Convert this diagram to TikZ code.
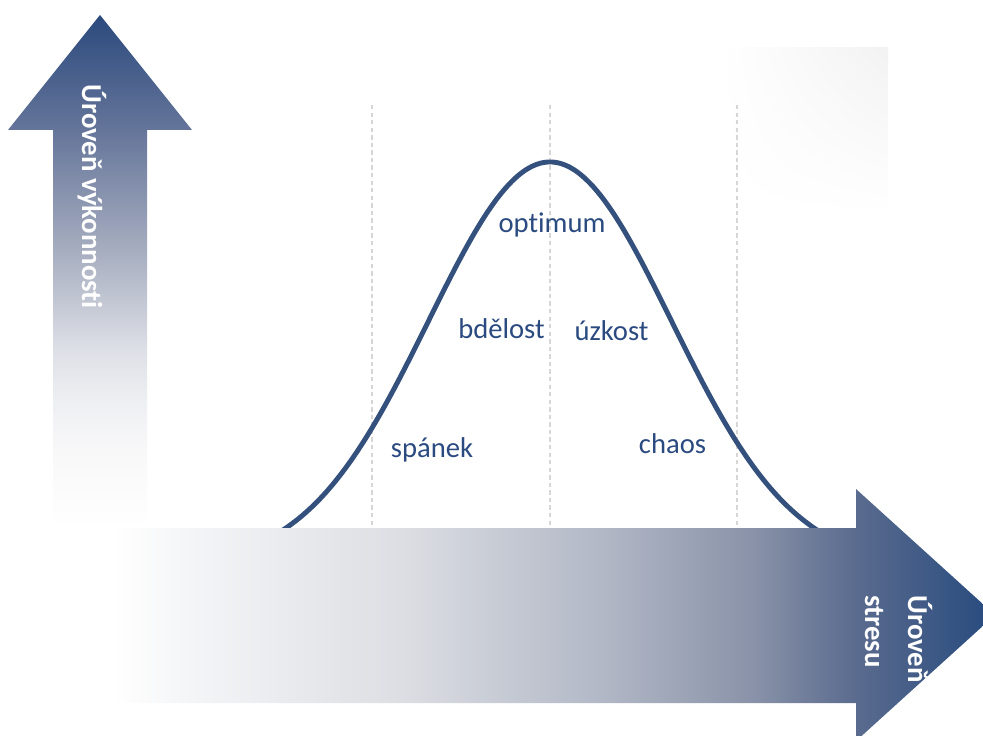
\documentclass[tikz,border=0pt]{standalone}
\usepackage{fontspec}
\setmainfont{Carlito}[Ligatures={NoCommon}]
\usetikzlibrary{shadings}
\definecolor{curvec}{HTML}{34507C}
\definecolor{labelc}{HTML}{2A4A80}
\definecolor{dashc}{HTML}{D6D6D6}
% vertical arrow stops
\definecolor{vA}{HTML}{F8F8F9}
\definecolor{vF}{HTML}{EEEFF2}
\definecolor{vB}{HTML}{DEE0E7}
\definecolor{vC}{HTML}{A6ADBF}
\definecolor{vD}{HTML}{65759A}
\definecolor{vE}{HTML}{2B4A7D}
% horizontal arrow stops
\definecolor{hA}{HTML}{F3F4F6}
\definecolor{hB}{HTML}{DCDEE3}
\definecolor{hC}{HTML}{B2B8C6}
\definecolor{hD}{HTML}{8A93A9}
\definecolor{hE}{HTML}{5A6B8E}
\definecolor{hF}{HTML}{264A7E}
\pgfdeclareverticalshading{vshade}{100bp}{color(0bp)=(white); color(25bp)=(white); color(32.6bp)=(vA); color(37.5bp)=(vF); color(42.3bp)=(vB); color(52.1bp)=(vC); color(63.8bp)=(vD); color(75bp)=(vE); color(100bp)=(vE)}
\pgfdeclarehorizontalshading{hshade}{100bp}{color(0bp)=(white); color(25bp)=(white); color(28bp)=(white); color(32.7bp)=(hA); color(43.4bp)=(hB); color(54bp)=(hC); color(62bp)=(hD); color(67.6bp)=(hE); color(75bp)=(hF); color(100bp)=(hF)}
\tikzset{
  guide/.style={draw=dashc, line width=0.9pt, dash pattern=on 2.5pt off 1.8pt},
  bell/.style={draw=curvec, line width=2.8pt, line cap=round},
  lbl/.style={text=labelc, font=\fontsize{16.3}{19}\selectfont, inner sep=0pt, anchor=base},
  axislbl/.style={text=white, font=\fontsize{16.4}{20}\selectfont\bfseries, inner sep=0pt, rotate=-90, anchor=base west}
}
\begin{document}
\begin{tikzpicture}[x=0.02cm, y=-0.02cm]
\useasboundingbox (0,0) rectangle (983,736);
% faint background patch
\shade[upper left=white, upper right=black!5, lower left=white, lower right=white] (720,48) rectangle (888,215);
% guides
\coordinate (g1t) at (372,105); \coordinate (g1b) at (372,528);
\coordinate (g2t) at (550,105); \coordinate (g2b) at (550,528);
\coordinate (g3t) at (737,105); \coordinate (g3b) at (737,528);
\draw[guide] (g1t) -- (g1b);
\draw[guide] (g2t) -- (g2b);
\draw[guide] (g3t) -- (g3b);
% bell curve
\draw[bell] plot[domain=250:850, samples=150, smooth] (\x, {566-404*exp(0-((\x-550)/100)^2/2.95)});
% horizontal arrow
\shade[shading=hshade] (55,528) -- (856,528) -- (856,489) -- (995,615) -- (856,741) -- (856,703) -- (55,703) -- cycle;
% vertical arrow
\shade[shading=vshade] (100,15) -- (192,130) -- (147,130) -- (147,528) -- (53,528) -- (53,130) -- (8,130) -- cycle;
% labels
\node[lbl] (opt) at (552,233) {optimum};
\node[lbl] (bde) at (501.5,338) {bdělost};
\node[lbl] (uzk) at (611.5,340) {úzkost};
\node[lbl] (spa) at (432,457) {spánek};
\node[lbl] (cha) at (672.5,453) {chaos};
% axis labels
\node[axislbl] (yax) at (82,84) {Úroveň výkonnosti};
\node[axislbl] (xax1) at (908,595) {Úroveň};
\node[axislbl] (xax2) at (865,595) {stresu};
\end{tikzpicture}
\end{document}
